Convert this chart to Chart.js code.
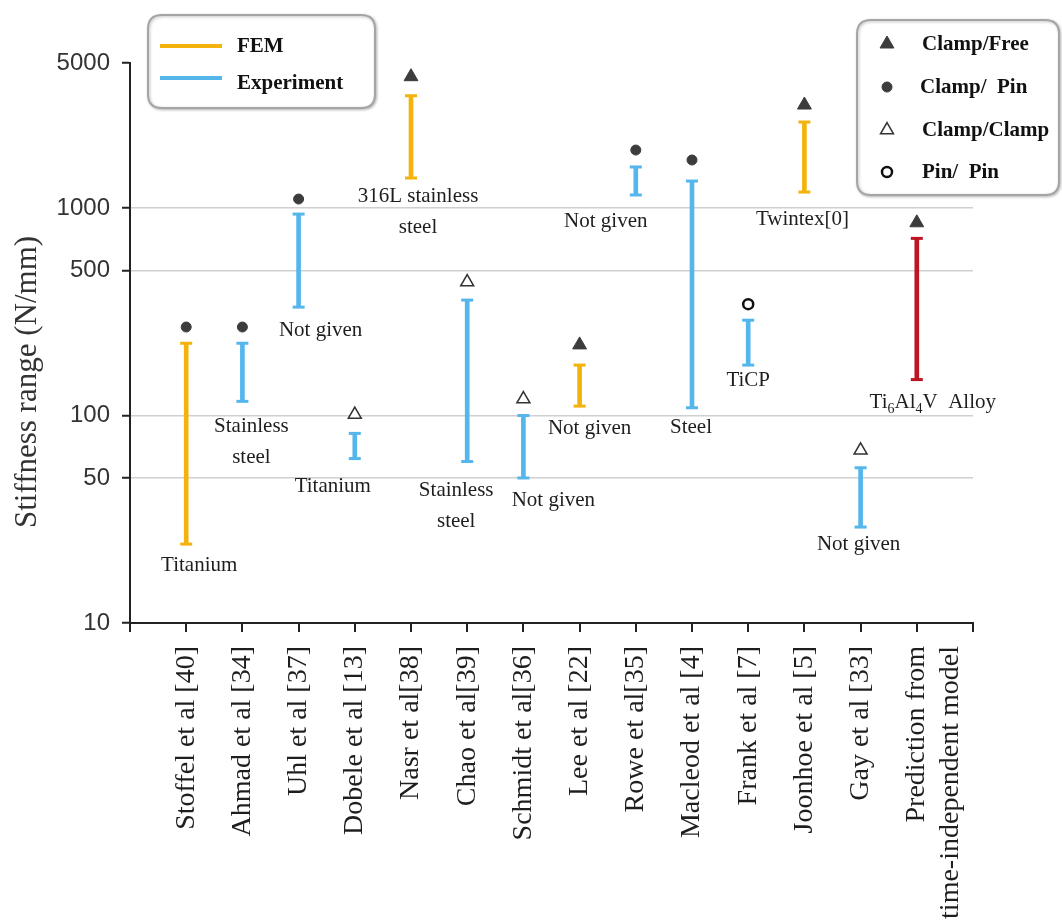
<!DOCTYPE html>
<html>
<head>
<meta charset="utf-8">
<script src="https://cdn.jsdelivr.net/npm/chart.js@4.4.1/dist/chart.umd.min.js"></script>
<style>
  html, body { margin: 0; padding: 0; background: #fff; }
  #wrap { width: 1062px; height: 920px; position: relative; }
</style>
</head>
<body>
<div id="wrap"><canvas id="stiffChart"></canvas></div>
<script>
// studies along the x axis
const studies = [
  'Stoffel et al [40]', 'Ahmad et al [34]', 'Uhl et al [37]', 'Dobele et al [13]',
  'Nasr et al[38]', 'Chao et al[39]', 'Schmidt et al[36]', 'Lee et al [22]',
  'Rowe et al[35]', 'Macleod et al [4]', 'Frank et al [7]', 'Joonhoe et al [5]',
  'Gay et al [33]', ['Prediction from', 'time-independent model']
];
// stiffness range (N/mm)
const lows  = [24, 117, 333, 62, 1395, 60, 50, 111, 1156, 109, 175, 1194, 29, 149];
const highs = [223, 223, 935, 82, 3477, 360, 100, 175, 1577, 1349, 288, 2597, 56, 714];
const method = ['FEM', 'Exp', 'Exp', 'Exp', 'FEM', 'Exp', 'Exp', 'FEM', 'Exp', 'Exp', 'Exp', 'FEM', 'Exp', 'Model'];
// boundary condition marker
const markerValues = [267, 267, 1105, 101, 4295, 440, 120, 219, 1903, 1704, 344, 3136, 68, 849];
const support = ['Clamp/Pin', 'Clamp/Pin', 'Clamp/Pin', 'Clamp/Clamp', 'Clamp/Free', 'Clamp/Clamp', 'Clamp/Clamp',
  'Clamp/Free', 'Clamp/Pin', 'Clamp/Pin', 'Pin/Pin', 'Clamp/Free', 'Clamp/Clamp', 'Clamp/Free'];
// material notes under each bar
const notes = [
  ['Titanium'], ['Stainless', 'steel'], ['Not given'], ['Titanium'], ['316L stainless', 'steel'],
  ['Stainless', 'steel'], ['Not given'], ['Not given'], ['Not given'], ['Steel'], ['TiCP'],
  ['Twintex[0]'], ['Not given'], ['Ti_6Al_4V  Alloy']
];
const yTicks = [10, 50, 100, 500, 1000, 5000];

// where each note sits relative to the bottom of its bar (px)
const noteShift = [[13, 21], [9, 25], [22, 23], [-22, 28], [7, 18], [-11, 29], [30, 23],
  [10, 22], [-30, 27], [-1, 20], [0, 15], [-2, 27], [-2, 17], [16, 23]];

const colors = { FEM: '#F4B30C', Exp: '#55B6EC', Model: '#BE1522' };
const markStyle = {
  'Clamp/Free':  { style: 'triangle', r: 8, fill: '#3c3c3c', stroke: '#3c3c3c', w: 1 },
  'Clamp/Pin':   { style: 'circle', r: 5, fill: '#3c3c3c', stroke: '#3c3c3c', w: 1 },
  'Clamp/Clamp': { style: 'triangle', r: 7.5, fill: '#ffffff', stroke: '#333333', w: 1.5 },
  'Pin/Pin':     { style: 'circle', r: 5, fill: '#ffffff', stroke: '#111111', w: 2.5 }
};

const pad = arr => [null, ...arr, null];
const padWith = (arr, v) => [v, ...arr, v];
const barColors = padWith(method.map(m => colors[m]), '#000');
const mk = support.map(s => markStyle[s]);

const serif = '"Liberation Serif", "Times New Roman", serif';

function drawRich(ctx, text, cx, cy, size) {
  // "_" marks a one-character subscript
  const parts = [];
  let i = 0, buf = '';
  while (i < text.length) {
    if (text[i] === '_') {
      if (buf) parts.push({ t: buf, sub: false });
      parts.push({ t: text[i + 1], sub: true });
      buf = '';
      i += 2;
    } else { buf += text[i]; i++; }
  }
  if (buf) parts.push({ t: buf, sub: false });
  const big = size + 'px ' + serif, small = Math.round(size * 0.65) + 'px ' + serif;
  let total = 0;
  parts.forEach(p => { ctx.font = p.sub ? small : big; p.w = ctx.measureText(p.t).width; total += p.w; });
  let x = cx - total / 2;
  ctx.textAlign = 'left';
  parts.forEach(p => {
    ctx.font = p.sub ? small : big;
    ctx.fillText(p.t, x, p.sub ? cy + size * 0.3 : cy);
    x += p.w;
  });
  ctx.textAlign = 'center';
}

const notesPlugin = {
  id: 'notes',
  afterDatasetsDraw(chart) {
    const { ctx, scales: { x, y } } = chart;
    ctx.save();
    ctx.fillStyle = '#1e1e1e';
    ctx.textAlign = 'center';
    ctx.textBaseline = 'middle';
    notes.forEach((lines, i) => {
      const px = x.getPixelForValue(i + 1) + noteShift[i][0];
      const py = y.getPixelForValue(lows[i]) + noteShift[i][1];
      lines.forEach((t, k) => {
        ctx.font = '21px ' + serif;
        if (t.includes('_')) drawRich(ctx, t, px, py + k * 31, 21);
        else ctx.fillText(t, px, py + k * 31);
      });
    });
    // y axis title, drawn by hand so it can sit a bit low like the original
    ctx.translate(28, 382);
    ctx.rotate(-Math.PI / 2);
    ctx.font = '31px ' + serif;
    ctx.fillStyle = '#333';
    ctx.fillText('Stiffness range (N/mm)', 0, 0);
    ctx.restore();
  }
};

function boxPath(ctx, x, y, w, h, r) {
  ctx.beginPath();
  ctx.moveTo(x + r, y);
  ctx.lineTo(x + w - r, y);
  ctx.quadraticCurveTo(x + w, y, x + w, y + r);
  ctx.lineTo(x + w, y + h - r);
  ctx.quadraticCurveTo(x + w, y + h, x + w - r, y + h);
  ctx.lineTo(x + r, y + h);
  ctx.quadraticCurveTo(x, y + h, x, y + h - r);
  ctx.lineTo(x, y + r);
  ctx.quadraticCurveTo(x, y, x + r, y);
  ctx.closePath();
}

const legendPlugin = {
  id: 'legendBoxes',
  afterDraw(chart) {
    const ctx = chart.ctx;
    ctx.save();
    ctx.shadowColor = 'rgba(0,0,0,0.25)';
    ctx.shadowBlur = 3;
    ctx.shadowOffsetX = 1;
    ctx.shadowOffsetY = 1;
    ctx.fillStyle = '#fff';
    ctx.strokeStyle = '#a5a5a5';
    ctx.lineWidth = 2;
    boxPath(ctx, 148, 15, 227, 93, 14); ctx.fill(); ctx.stroke();
    boxPath(ctx, 857, 20, 202, 175, 14); ctx.fill(); ctx.stroke();
    ctx.restore();

    ctx.save();
    ctx.lineWidth = 4;
    ctx.strokeStyle = colors.FEM;
    ctx.beginPath(); ctx.moveTo(160, 46); ctx.lineTo(222, 46); ctx.stroke();
    ctx.strokeStyle = colors.Exp;
    ctx.beginPath(); ctx.moveTo(160, 78); ctx.lineTo(222, 78); ctx.stroke();
    ctx.fillStyle = '#111';
    ctx.font = 'bold 21px ' + serif;
    ctx.textBaseline = 'middle';
    ctx.fillText('FEM', 237, 47);
    ctx.fillText('Experiment', 237, 84);

    const rows = [['Clamp/Free', 44, 922], ['Clamp/Pin', 87, 920], ['Clamp/Clamp', 130, 922], ['Pin/Pin', 172, 922]];
    const rowText = { 'Clamp/Free': 'Clamp/Free', 'Clamp/Pin': 'Clamp/  Pin', 'Clamp/Clamp': 'Clamp/Clamp', 'Pin/Pin': 'Pin/  Pin' };
    rows.forEach(([key, yy, tx]) => {
      const s = markStyle[key];
      ctx.fillStyle = s.fill;
      ctx.strokeStyle = s.stroke;
      ctx.lineWidth = s.w;
      Chart.helpers.drawPoint(ctx, { pointStyle: s.style, radius: s.r, borderWidth: s.w, rotation: 0 }, 887, yy);
      ctx.fillStyle = '#111';
      ctx.fillText(rowText[key], tx, yy + 1);
    });
    ctx.restore();
  }
};

new Chart(document.getElementById('stiffChart'), {
  type: 'bar',
  data: {
    labels: ['', ...studies, ''],
    datasets: [
      {
        type: 'bar',
        data: pad(lows.map((v, i) => [v, highs[i]])),
        backgroundColor: barColors,
        barThickness: 4,
        order: 3
      },
      {
        type: 'line',
        data: pad(lows),
        showLine: false,
        pointStyle: 'line',
        pointRadius: 6,
        pointBorderWidth: 3,
        pointBorderColor: barColors,
        order: 2
      },
      {
        type: 'line',
        data: pad(highs),
        showLine: false,
        pointStyle: 'line',
        pointRadius: 6,
        pointBorderWidth: 3,
        pointBorderColor: barColors,
        order: 2
      },
      {
        type: 'line',
        data: pad(markerValues),
        showLine: false,
        pointStyle: padWith(mk.map(m => m.style), 'circle'),
        pointRadius: padWith(mk.map(m => m.r), 0),
        pointBackgroundColor: padWith(mk.map(m => m.fill), '#fff'),
        pointBorderColor: padWith(mk.map(m => m.stroke), '#fff'),
        pointBorderWidth: padWith(mk.map(m => m.w), 0),
        order: 1
      }
    ]
  },
  options: {
    responsive: true,
    maintainAspectRatio: false,
    animation: false,
    events: [],
    layout: { padding: { top: 63, right: 89, left: 0, bottom: 0 } },
    plugins: { legend: { display: false }, tooltip: { enabled: false } },
    scales: {
      x: {
        offset: false,
        afterFit: s => { s.height = 297; },
        grid: { offset: false, drawOnChartArea: false, tickLength: 9, color: '#222', lineWidth: 2 },
        border: { color: '#222', width: 2 },
        ticks: {
          autoSkip: false, maxRotation: 90, minRotation: 90, padding: 14,
          font: { family: serif, size: 28 }, color: '#1e1e1e'
        }
      },
      y: {
        type: 'logarithmic',
        min: 10,
        max: 5000,
        afterBuildTicks: s => { s.ticks = yTicks.map(v => ({ value: v })); },
        afterFit: s => { s.width = 130; },
        ticks: {
          callback: v => String(v),
          font: { family: '"Liberation Sans", Arial, sans-serif', size: 24 },
          color: '#333', padding: 12
        },
        grid: {
          color: c => (c.tick && (c.tick.value === 10 || c.tick.value === 5000)) ? 'rgba(0,0,0,0)' : '#d0d0d0',
          lineWidth: 1.5,
          tickColor: '#222',
          tickWidth: 2,
          tickLength: 8
        },
        border: { color: '#222', width: 2 }
      }
    }
  },
  plugins: [notesPlugin, legendPlugin]
});
</script>
</body>
</html>
